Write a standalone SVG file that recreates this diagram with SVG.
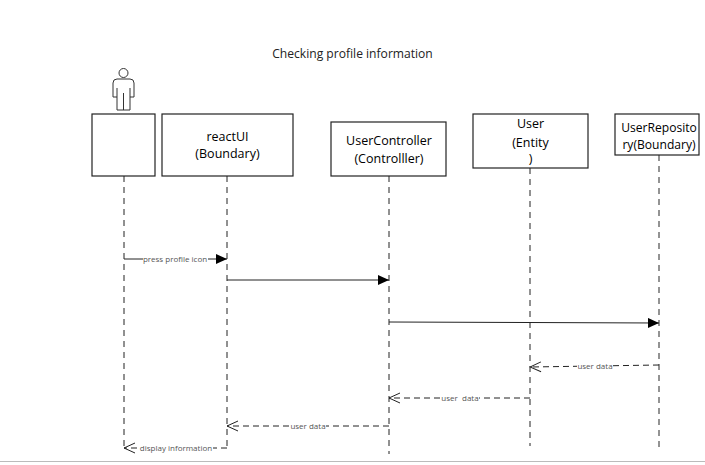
<svg xmlns="http://www.w3.org/2000/svg" width="705" height="465" viewBox="0 0 705 465">
<style>
text{font-family:"Open Sans","Noto Sans","Liberation Sans",sans-serif;text-anchor:middle}
.box{fill:#fff;stroke:#222;stroke-width:1.2}
.name{font-size:12.5px;fill:#000}
.life{fill:none;stroke:#222;stroke-width:1;stroke-dasharray:6 5}
.msg{fill:none;stroke:#222;stroke-width:1}
.ret{fill:none;stroke:#222;stroke-width:1;stroke-dasharray:6 4}
.lbl{font-size:8px;fill:#555}
.bg{fill:#fff;stroke:none}
</style>
<defs>
<marker id="solid" markerUnits="userSpaceOnUse" markerWidth="12" markerHeight="10" refX="11" refY="5" orient="auto"><path d="M0 0L11 5L0 10Z" fill="#000"/></marker>
<marker id="openHead" markerUnits="userSpaceOnUse" markerWidth="13" markerHeight="12" refX="12" refY="6" orient="auto"><path d="M1 1L12 6L1 11" fill="none" stroke="#222"/></marker>
</defs>
<rect width="705" height="465" fill="#fff"/>
<text x="352.500" y="58" style="font-size:12.1px;fill:#222">Checking profile information</text>
<g id="lifelines">
<path class="life" d="M124 176V450"/>
<path class="life" d="M227 176V450"/>
<path class="life" d="M389 176V454"/>
<path class="life" d="M530 168V446"/>
<path class="life" style="stroke:#666;stroke-width:1.4" d="M659 155V448"/>
</g>
<g id="actor">
<g fill="none" stroke="#333" stroke-width="1">
<circle cx="123.500" cy="73" r="4.500"/>
<path d="M117 79H130Q134 79 134 83V97H130V88M130 97V110H117V97V88M117 97H113V83Q113 79 117 79M123.500 93V110"/>
</g>
</g>
<g id="node-actor"><rect class="box" x="92" y="114" width="63" height="62"/></g>
<g id="node-reactUI"><rect class="box" x="162" y="114" width="131" height="62"/>
<text class="name" x="227.500" y="141">reactUI</text><text class="name" x="227.500" y="158">(Boundary)</text></g>
<g id="node-UserController"><rect class="box" x="331" y="122" width="115" height="54"/>
<text class="name" x="389" y="145">UserController</text><text class="name" x="389" y="163">(Controlller)</text></g>
<g id="node-User"><rect class="box" x="473" y="114" width="115" height="54"/>
<text class="name" x="530.500" y="128">User</text><text class="name" x="530.500" y="147">(Entity</text><text class="name" x="530.500" y="163">)</text></g>
<g id="node-UserRepository"><rect class="box" x="615" y="114" width="84" height="41"/>
<text class="name" style="font-size:12.1px" x="659" y="132">UserReposito</text><text class="name" style="font-size:12.1px" x="659" y="149">ry(Boundary)</text></g>
<g id="connectors">
<path class="msg" d="M124 259H227" marker-end="url(#solid)"/>
<rect class="bg" x="143" y="254" width="65" height="10"/>
<text class="lbl" x="175" y="262">press profile icon</text>
<path class="msg" d="M227 280H389" marker-end="url(#solid)"/>
<path class="msg" d="M389 322L659 323" marker-end="url(#solid)"/>
<path class="ret" d="M659 365L530 367" marker-end="url(#openHead)"/>
<rect class="bg" x="577" y="361" width="36" height="10"/>
<text class="lbl" x="595" y="369">user data</text>
<path class="ret" d="M530 398H389" marker-end="url(#openHead)"/>
<rect class="bg" x="441" y="393" width="38" height="10"/>
<text class="lbl" x="460" y="401" xml:space="preserve">user  data</text>
<path class="ret" d="M389 426H227" marker-end="url(#openHead)"/>
<rect class="bg" x="290" y="421" width="36" height="10"/>
<text class="lbl" x="308" y="429">user data</text>
<path class="ret" d="M227 448H124" marker-end="url(#openHead)"/>
<rect class="bg" x="138" y="443" width="75" height="10"/>
<text class="lbl" x="176" y="451">display information</text>
</g>
<rect x="0" y="461" width="705" height="1" fill="#bbb"/>
</svg>
